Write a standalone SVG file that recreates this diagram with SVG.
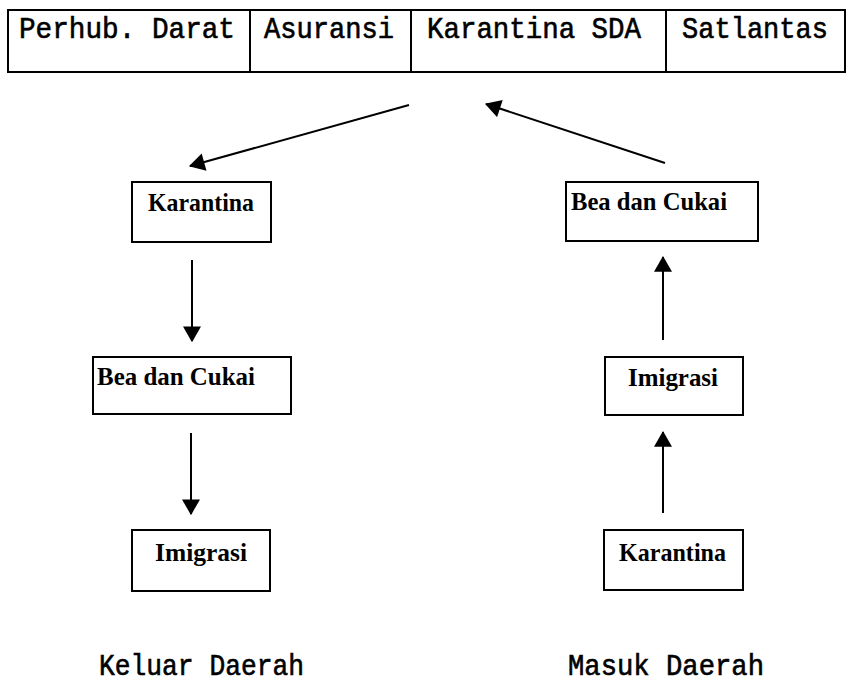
<svg xmlns="http://www.w3.org/2000/svg" width="848" height="685" viewBox="0 0 848 685">
  <style>
    .box { fill: #fff; stroke: #000; stroke-width: 2; }
    .mono { font-family: "Liberation Mono", "Courier New", monospace; font-size: 29px; fill: #000; stroke: #000; stroke-width: 0.6; }
    .serif { font-family: "Liberation Serif", "Times New Roman", serif; font-size: 26px; font-weight: bold; fill: #000; }
    .edge { stroke: #000; stroke-width: 2; fill: none; marker-end: url(#head); }
  </style>
  <defs>
    <marker id="head" markerUnits="userSpaceOnUse" markerWidth="18" markerHeight="18" viewBox="0 0 14 16" refX="13" refY="8" orient="auto">
      <path d="M0,0 L14,8 L0,16 Z" fill="#000"/>
    </marker>
  </defs>

  <rect width="848" height="685" fill="#fff"/>

  <!-- Agency table along the top -->
  <g id="agencies">
    <rect class="box" x="8" y="10" width="837" height="62"/>
    <line x1="250" y1="10" x2="250" y2="72" stroke="#000" stroke-width="2"/>
    <line x1="411" y1="10" x2="411" y2="72" stroke="#000" stroke-width="2"/>
    <line x1="666" y1="10" x2="666" y2="72" stroke="#000" stroke-width="2"/>
    <text class="mono" x="19" y="38" textLength="216" lengthAdjust="spacingAndGlyphs">Perhub. Darat</text>
    <text class="mono" x="264" y="38" textLength="130" lengthAdjust="spacingAndGlyphs">Asuransi</text>
    <text class="mono" x="427" y="38" textLength="214" lengthAdjust="spacingAndGlyphs">Karantina SDA</text>
    <text class="mono" x="682" y="38" textLength="146" lengthAdjust="spacingAndGlyphs">Satlantas</text>
  </g>

  <!-- Outbound column -->
  <g id="out-karantina">
    <rect class="box" x="132" y="182" width="139" height="60"/>
    <text class="serif" x="148" y="211" textLength="106" lengthAdjust="spacingAndGlyphs">Karantina</text>
  </g>
  <g id="out-bea-cukai">
    <rect class="box" x="93" y="357" width="198" height="57"/>
    <text class="serif" x="97" y="385" textLength="158" lengthAdjust="spacingAndGlyphs">Bea dan Cukai</text>
  </g>
  <g id="out-imigrasi">
    <rect class="box" x="132" y="530" width="138" height="61"/>
    <text class="serif" x="155" y="561" textLength="92" lengthAdjust="spacingAndGlyphs">Imigrasi</text>
  </g>

  <!-- Inbound column -->
  <g id="in-bea-cukai">
    <rect class="box" x="566" y="182" width="192" height="59"/>
    <text class="serif" x="571" y="210" textLength="156" lengthAdjust="spacingAndGlyphs">Bea dan Cukai</text>
  </g>
  <g id="in-imigrasi">
    <rect class="box" x="605" y="357" width="138" height="58"/>
    <text class="serif" x="628" y="386" textLength="90" lengthAdjust="spacingAndGlyphs">Imigrasi</text>
  </g>
  <g id="in-karantina">
    <rect class="box" x="604" y="530" width="139" height="60"/>
    <text class="serif" x="619" y="561" textLength="107" lengthAdjust="spacingAndGlyphs">Karantina</text>
  </g>

  <!-- Column captions -->
  <g id="captions">
    <text class="mono" x="99" y="675" textLength="205" lengthAdjust="spacingAndGlyphs">Keluar Daerah</text>
    <text class="mono" x="568" y="675" textLength="196" lengthAdjust="spacingAndGlyphs">Masuk Daerah</text>
  </g>

  <!-- Connectors -->
  <g id="connectors">
    <line class="edge" x1="409" y1="105" x2="190" y2="166"/>
    <line class="edge" x1="192" y1="260" x2="192" y2="341"/>
    <line class="edge" x1="191" y1="433" x2="191" y2="514"/>
    <line class="edge" x1="663" y1="513" x2="663" y2="432"/>
    <line class="edge" x1="663" y1="340" x2="663" y2="257"/>
    <line class="edge" x1="665" y1="163" x2="486" y2="104"/>
  </g>
</svg>
